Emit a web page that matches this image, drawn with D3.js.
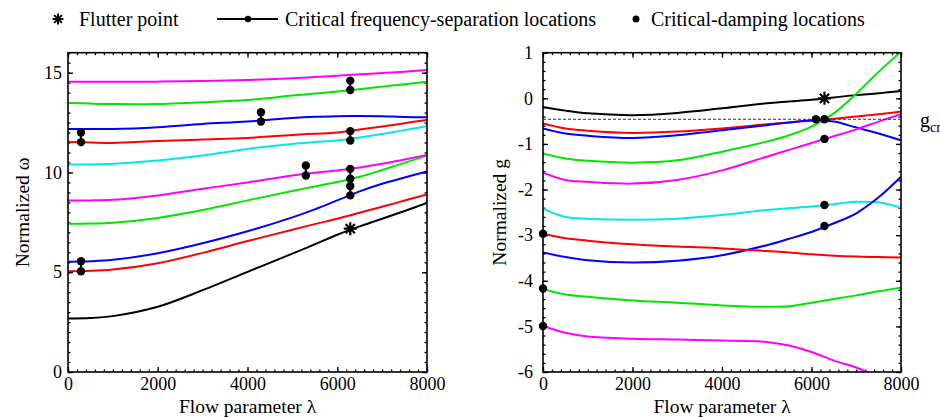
<!DOCTYPE html>
<html><head><meta charset="utf-8">
<script src="https://cdn.jsdelivr.net/npm/d3@7"></script>
<style>
body{margin:0;background:#fff;}
svg{display:block;font-family:"Liberation Serif","Times New Roman",serif;}
</style></head>
<body><svg id="c" width="940" height="417"></svg>
<script>
// ---------- data ----------
const lambdaGrid = [0,500,1000,2000,3000,4000,5000,5500,6000,6500,7000,7500,8000];
const xTicks = [0,2000,4000,6000,8000];
const omegaTicks = [0,5,10,15];
const gTicks = [1,0,-1,-2,-3,-4,-5,-6];
const modeColors = ["#000000","#ff0000","#0000ff","#00e600","#ff00ff","#00e8e8","#ff0000","#0000ff","#00e600","#ff00ff"];
const rightColors = ["#000000","#ff0000","#0000ff","#00e600","#ff00ff","#00e8e8","#0000ff","#ff0000","#00e600","#ff00ff"];

// normalized frequency (left)
const omegaBlack   = [2.68,2.70,2.80,3.27,4.10,5.02,5.93,6.40,6.88,7.30,7.68,8.07,8.47];
const omegaRed1    = [5.05,5.07,5.14,5.45,5.97,6.56,7.13,7.41,7.68,7.98,8.28,8.59,8.90];
const omegaBlue1   = [5.53,5.55,5.62,5.95,6.45,7.05,7.75,8.15,8.60,9.05,9.43,9.75,10.05];
const omegaGreen1  = [7.43,7.44,7.48,7.72,8.12,8.60,9.07,9.30,9.52,9.78,10.12,10.48,10.85];
const omegaMag1    = [8.60,8.60,8.63,8.85,9.18,9.50,9.85,9.98,10.10,10.25,10.43,10.65,10.88];
const omegaCyan    = [10.40,10.40,10.43,10.60,10.85,11.18,11.43,11.52,11.60,11.75,11.93,12.12,12.32];
const omegaRed2    = [11.52,11.50,11.48,11.57,11.65,11.73,11.88,11.94,12.00,12.15,12.30,12.47,12.63];
const omegaBlue2   = [12.18,12.18,12.18,12.27,12.43,12.55,12.73,12.79,12.82,12.83,12.82,12.78,12.77];
const omegaGreen2  = [13.48,13.45,13.43,13.43,13.52,13.63,13.85,13.95,14.05,14.17,14.30,14.42,14.55];
const omegaMag2    = [14.55,14.55,14.55,14.55,14.58,14.63,14.72,14.78,14.85,14.92,14.98,15.05,15.13];

// normalized damping (right)
const gBlack   = [-0.19,-0.27,-0.33,-0.37,-0.32,-0.22,-0.11,-0.07,-0.03,0.02,0.07,0.11,0.16];
const gRed1    = [-0.55,-0.66,-0.71,-0.76,-0.73,-0.66,-0.57,-0.53,-0.49,-0.45,-0.40,-0.35,-0.29];
const gBlue1   = [-0.66,-0.77,-0.82,-0.87,-0.81,-0.70,-0.59,-0.53,-0.48,-0.51,-0.64,-0.77,-0.92];
const gGreen1  = [-1.21,-1.32,-1.37,-1.41,-1.36,-1.17,-0.95,-0.81,-0.62,-0.33,0.10,0.58,1.02];
const gMag1    = [-1.63,-1.79,-1.83,-1.87,-1.79,-1.58,-1.28,-1.13,-0.98,-0.83,-0.68,-0.51,-0.35];
const gCyan    = [-2.42,-2.60,-2.64,-2.66,-2.64,-2.56,-2.45,-2.41,-2.37,-2.32,-2.27,-2.28,-2.40];
const gBlue2   = [-3.38,-3.48,-3.55,-3.60,-3.56,-3.44,-3.22,-3.08,-2.93,-2.74,-2.52,-2.17,-1.72];
const gRed2    = [-2.97,-3.07,-3.12,-3.20,-3.25,-3.29,-3.35,-3.38,-3.42,-3.45,-3.47,-3.48,-3.49];
const gGreen2  = [-4.18,-4.30,-4.35,-4.43,-4.48,-4.54,-4.57,-4.56,-4.48,-4.40,-4.32,-4.23,-4.15];
const gMag2    = [-4.99,-5.14,-5.22,-5.27,-5.29,-5.31,-5.34,-5.42,-5.56,-5.75,-5.90,-6.12,-6.40];

// markers
const flutterLambda = 6290;
const flutterOmega = 7.18;
const flutterG = 0;
const freqSepLambda = [290,290,4300,5300,6290,6290,6290,6290];
const freqSepHigh   = [12.00,5.55,13.02,10.35,14.60,12.07,10.18,9.32];
const freqSepLow    = [11.52,5.05,12.55,9.85,14.13,11.60,9.68,8.85];
const dampLambda = [0,0,0,6100,6290,6290,6290,6290];
const dampG      = [-2.97,-4.17,-4.99,-0.46,-0.46,-0.89,-2.34,-2.80];
const gCritical = -0.46;

const legendLabels = ["Flutter point","Critical frequency-separation locations","Critical-damping locations"];

// ---------- drawing ----------
const svg = d3.select("#c");
const omegaSeries = [omegaBlack,omegaRed1,omegaBlue1,omegaGreen1,omegaMag1,omegaCyan,omegaRed2,omegaBlue2,omegaGreen2,omegaMag2];
const gSeries = [gBlack,gRed1,gBlue1,gGreen1,gMag1,gCyan,gBlue2,gRed2,gGreen2,gMag2];
const FONT = "Liberation Serif, Times New Roman, serif";

function asteriskPath(cx, cy, r){
  let p = "";
  for (let i=0;i<4;i++){
    const a = i*Math.PI/4;
    const dx = r*Math.cos(a), dy = r*Math.sin(a);
    p += `M${cx-dx},${cy-dy}L${cx+dx},${cy+dy}`;
  }
  return p;
}

function panel(opts){
  const {x0,x1,y0,y1,ydom,yTicks,yMinorStep,series,colors,ytitle,ytitleX,labelPad,id} = opts;
  const x = d3.scaleLinear().domain([0,8000]).range([x0,x1]);
  const y = d3.scaleLinear().domain(ydom).range([y1,y0]);
  const g = svg.append("g");
  g.append("clipPath").attr("id",id).append("rect")
    .attr("x",x0).attr("y",y0).attr("width",x1-x0).attr("height",y1-y0);
  const minorX = d3.range(0,8001,200);
  const minorY = d3.range(ydom[0], ydom[1]+1e-9, yMinorStep);
  const axStyle = sel => { sel.select(".domain").remove(); sel.selectAll("line").attr("stroke","#000").attr("stroke-width",1.3); };
  // minor ticks
  g.append("g").attr("transform",`translate(0,${y1})`).call(d3.axisBottom(x).tickValues(minorX).tickSize(-2.5).tickFormat("")).call(axStyle);
  g.append("g").attr("transform",`translate(0,${y0})`).call(d3.axisTop(x).tickValues(minorX).tickSize(-2.5).tickFormat("")).call(axStyle);
  g.append("g").attr("transform",`translate(${x0},0)`).call(d3.axisLeft(y).tickValues(minorY).tickSize(-2.5).tickFormat("")).call(axStyle);
  g.append("g").attr("transform",`translate(${x1},0)`).call(d3.axisRight(y).tickValues(minorY).tickSize(-2.5).tickFormat("")).call(axStyle);
  // major ticks
  const bx = g.append("g").attr("transform",`translate(0,${y1})`)
    .call(d3.axisBottom(x).tickValues(xTicks).tickSize(-5).tickPadding(5).tickFormat(d=>String(d))).call(axStyle);
  g.append("g").attr("transform",`translate(0,${y0})`).call(d3.axisTop(x).tickValues(xTicks).tickSize(-5).tickFormat("")).call(axStyle);
  const ly = g.append("g").attr("transform",`translate(${x0},0)`)
    .call(d3.axisLeft(y).tickValues(yTicks).tickSize(-5).tickPadding(labelPad).tickFormat(d=>String(d))).call(axStyle);
  g.append("g").attr("transform",`translate(${x1},0)`).call(d3.axisRight(y).tickValues(yTicks).tickSize(-5).tickFormat("")).call(axStyle);
  [bx,ly].forEach(s=>{ s.attr("font-family",FONT).attr("font-size",18);
    s.selectAll("text").attr("font-family",FONT).attr("font-size",18).attr("fill","#000"); });

  // curves
  const line = d3.line().x((d,i)=>x(lambdaGrid[i])).y(d=>y(d)).curve(d3.curveCatmullRom.alpha(0.5));
  const plot = g.append("g").attr("clip-path",`url(#${id})`);
  series.forEach((s,i)=>{
    plot.append("path").attr("d",line(s)).attr("fill","none")
      .attr("stroke",colors[i]).attr("stroke-width",2);
  });
  // frame
  g.append("rect").attr("x",x0).attr("y",y0).attr("width",x1-x0).attr("height",y1-y0)
    .attr("fill","none").attr("stroke","#000").attr("stroke-width",1.6);
  // titles
  g.append("text").attr("x",(x0+x1)/2).attr("y",413).attr("text-anchor","middle")
    .attr("font-family",FONT).attr("font-size",19.5).text("Flow parameter λ");
  g.append("text").attr("transform",`translate(${ytitleX},${(y0+y1)/2}) rotate(-90)`)
    .attr("text-anchor","middle").attr("font-family",FONT).attr("font-size",19.5).text(ytitle);
  return {x,y,g,plot};
}

const L = panel({x0:68,x1:427,y0:52.7,y1:372,ydom:[0,16],yTicks:omegaTicks,yMinorStep:0.5,
  series:omegaSeries,colors:modeColors,ytitle:"Normalized ω",ytitleX:29,labelPad:6,id:"clipL"});
const R = panel({x0:543,x1:901,y0:52.7,y1:372,ydom:[-6,1],yTicks:gTicks,yMinorStep:0.2,
  series:gSeries,colors:rightColors,ytitle:"Normalized g",ytitleX:506,labelPad:10,id:"clipR"});

// left markers: frequency separation pairs
freqSepLambda.forEach((lam,i)=>{
  const xx = L.x(lam);
  L.g.append("line").attr("x1",xx).attr("x2",xx).attr("y1",L.y(freqSepHigh[i])).attr("y2",L.y(freqSepLow[i]))
    .attr("stroke","#000").attr("stroke-width",2);
  [freqSepHigh[i],freqSepLow[i]].forEach(v=>{
    L.g.append("circle").attr("cx",xx).attr("cy",L.y(v)).attr("r",4.2).attr("fill","#000");
  });
});
L.g.append("path").attr("d",asteriskPath(L.x(flutterLambda),L.y(flutterOmega),6.5))
  .attr("stroke","#000").attr("stroke-width",2.2);

// right: gcr dashed line
R.g.append("line").attr("x1",R.x(0)).attr("x2",R.x(8000)).attr("y1",R.y(gCritical)).attr("y2",R.y(gCritical))
  .attr("stroke","#333").attr("stroke-width",1).attr("stroke-dasharray","3,2");
const gl = R.g.append("text").attr("x",920).attr("y",R.y(gCritical)+8).attr("font-family",FONT).attr("font-size",20);
gl.append("tspan").text("g");
gl.append("tspan").attr("font-size",14).attr("dy",5).text("cr");
dampLambda.forEach((lam,i)=>{
  R.g.append("circle").attr("cx",R.x(lam)).attr("cy",R.y(dampG[i])).attr("r",4.2).attr("fill","#000");
});
R.g.append("path").attr("d",asteriskPath(R.x(flutterLambda),R.y(flutterG),6.5))
  .attr("stroke","#000").attr("stroke-width",2.2);

// legend
const lg = svg.append("g").attr("font-size",20).attr("font-family",FONT);
lg.append("path").attr("d",asteriskPath(58,19,5.5)).attr("stroke","#000").attr("stroke-width",2);
lg.append("text").attr("x",79).attr("y",26).text(legendLabels[0]);
lg.append("line").attr("x1",217).attr("x2",278).attr("y1",19).attr("y2",19).attr("stroke","#000").attr("stroke-width",2);
lg.append("circle").attr("cx",248).attr("cy",19).attr("r",3.2).attr("fill","#000");
lg.append("text").attr("x",285).attr("y",26).text(legendLabels[1]);
lg.append("circle").attr("cx",636).attr("cy",19).attr("r",3.5).attr("fill","#000");
lg.append("text").attr("x",651).attr("y",26).text(legendLabels[2]);
</script></body></html>
